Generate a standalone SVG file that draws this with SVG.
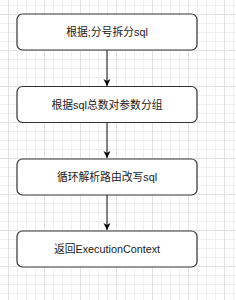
<svg xmlns="http://www.w3.org/2000/svg" width="236" height="300" viewBox="0 0 236 300">
<defs>
<pattern id="minor" x="8" y="5" width="9" height="9" patternUnits="userSpaceOnUse">
<path d="M0 0.5H9M0.5 0V9" fill="none" stroke="#f0f0f0" stroke-width="1"/>
</pattern>
<pattern id="major" x="8" y="14" width="36" height="36" patternUnits="userSpaceOnUse">
<path d="M0 0.5H36M0.5 0V36" fill="none" stroke="#e2e2e2" stroke-width="1"/>
</pattern>
<marker id="arr" markerWidth="8" markerHeight="8" refX="7" refY="4" orient="auto" markerUnits="userSpaceOnUse">
<path d="M0 0.5L7 4L0 7.5L2 4Z" fill="#000"/>
</marker>
<style>
.box{fill:#fff;stroke:#333;stroke-width:1.2}
.lbl{font-family:"Liberation Sans","Noto Sans CJK SC",sans-serif;font-size:10.8px;fill:#1a1a1a;text-anchor:middle}
.edge{stroke:#333;stroke-width:1.2;fill:none;marker-end:url(#arr)}
</style>
</defs>
<rect width="236" height="300" fill="#fff"/>
<rect width="236" height="300" fill="url(#minor)"/>
<rect width="236" height="300" fill="url(#major)"/>
<g id="connectors">
<path class="edge" d="M107 50V86"/>
<path class="edge" d="M107 122V158"/>
<path class="edge" d="M107 195V230"/>
</g>
<g id="n1"><rect class="box" x="17" y="14" width="180" height="36" rx="5.5"/><text class="lbl" x="107" y="36">根据;分号拆分sql</text></g>
<g id="n2"><rect class="box" x="17" y="86.5" width="180" height="36" rx="5.5"/><text class="lbl" x="107" y="108.5">根据sql总数对参数分组</text></g>
<g id="n3"><rect class="box" x="17" y="159" width="180" height="36" rx="5.5"/><text class="lbl" x="107" y="181">循环解析路由改写sql</text></g>
<g id="n4"><rect class="box" x="17" y="231" width="180" height="36" rx="5.5"/><text class="lbl" x="107" y="253">返回ExecutionContext</text></g>
</svg>
